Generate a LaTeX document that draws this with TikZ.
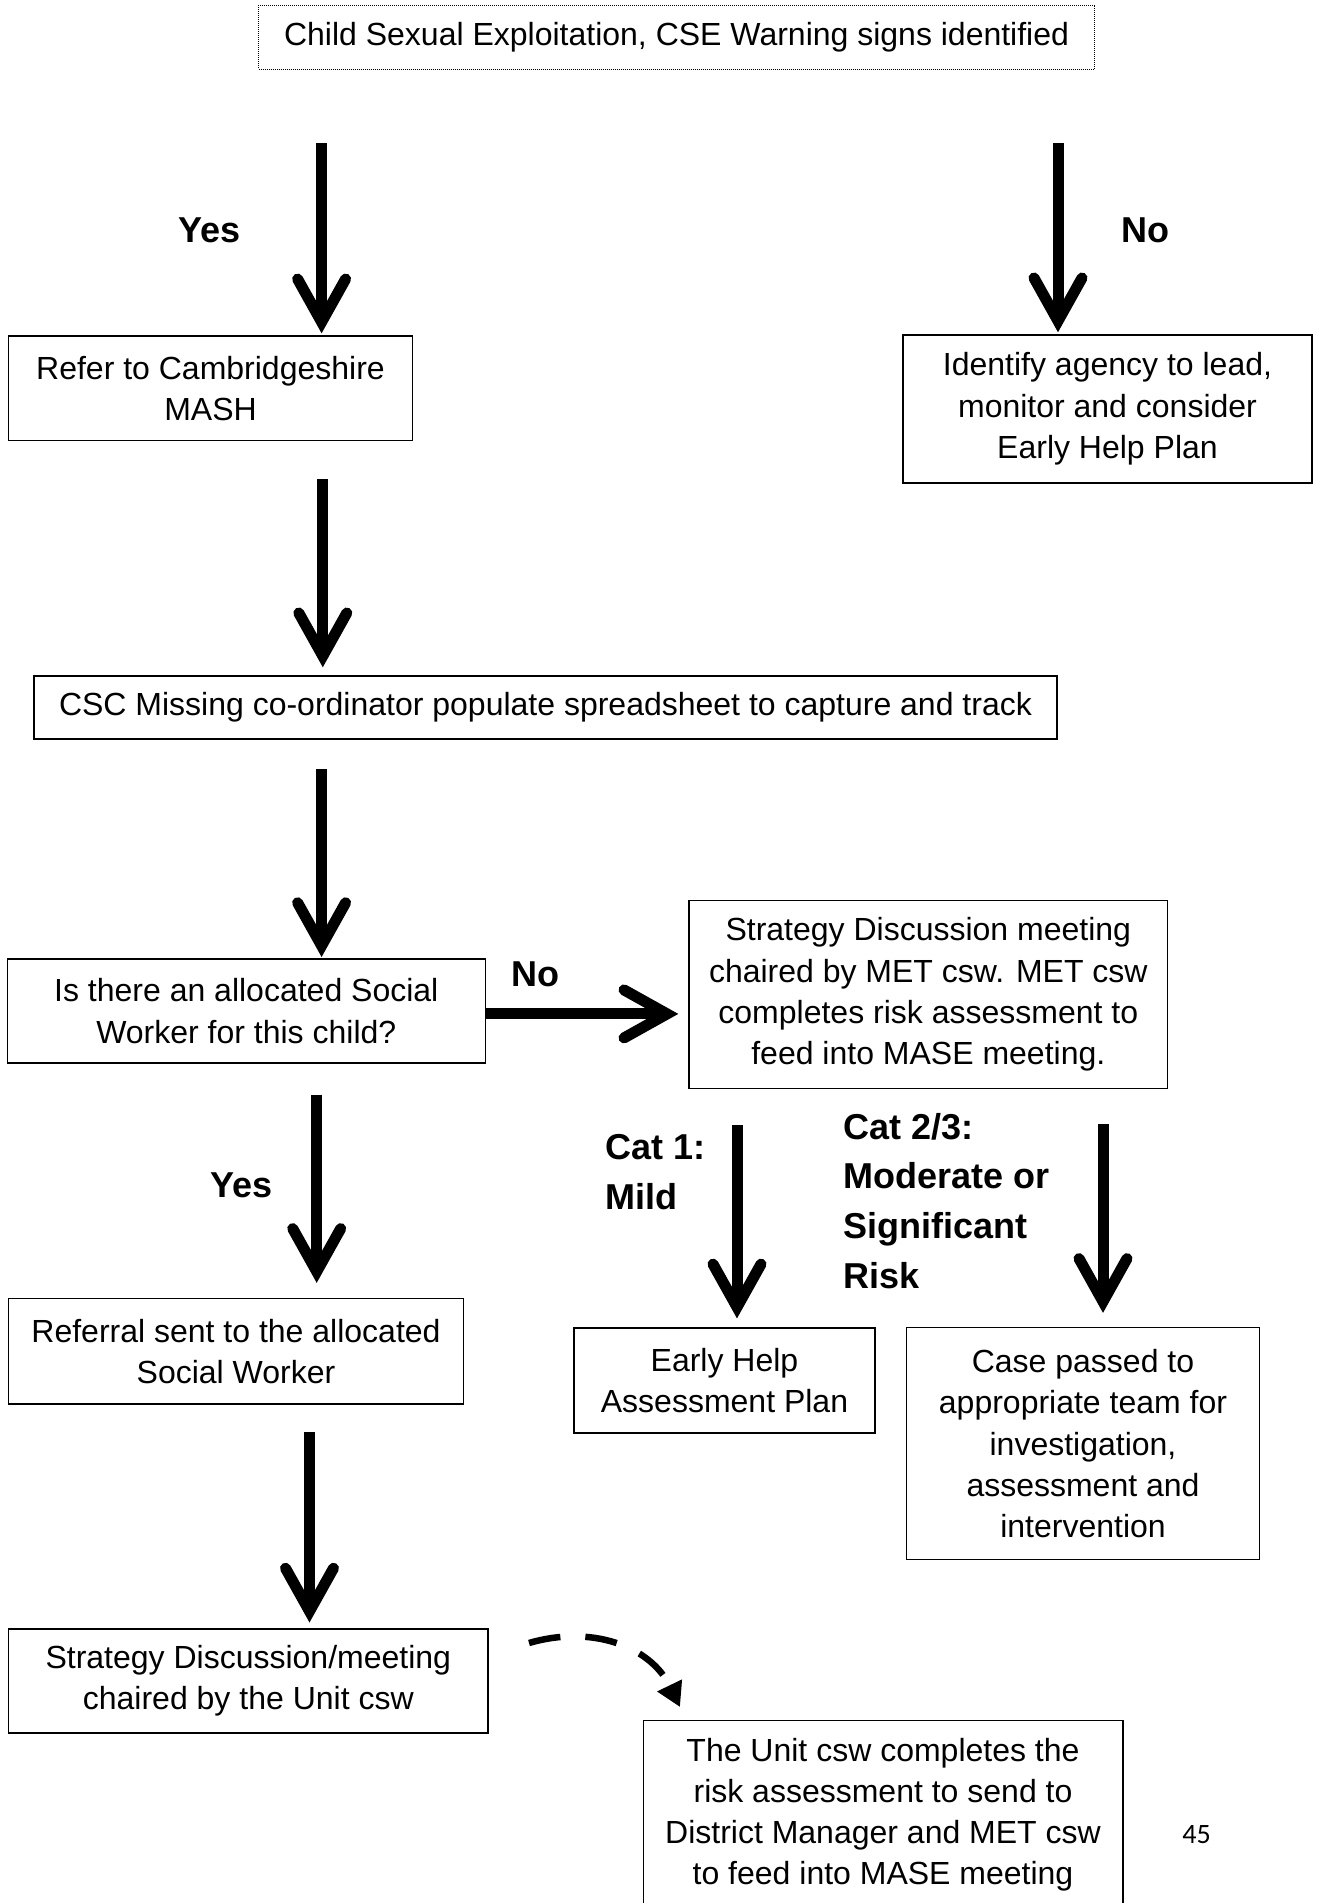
\documentclass[tikz,border=0pt]{standalone}
\usepackage{fontspec}
\setmainfont{Liberation Sans}
\newfontfamily\pagefont{Carlito}
\usetikzlibrary{arrows.meta}
\begin{document}
\begin{tikzpicture}[x=1pt,y=-1pt,
  box/.style={draw, line width=1.5pt, rectangle, inner sep=0pt, align=center,
    font=\fontsize{32}{41.3}\selectfont},
  dotbox/.style={box, line width=1pt, dash pattern=on 1pt off 1pt},
  lbl/.style={font=\fontsize{36}{49.8}\selectfont\bfseries, inner sep=0pt, align=left},
  bigarrow/.style={line width=11pt,
    -{Straight Barb[length=43pt,width=48pt,line cap=round,line join=miter]}},
  dasharrow/.style={line width=6.5pt, dash pattern=on 32pt off 25pt,
    -{Triangle[length=24pt,width=26pt]}}]
\useasboundingbox (0,0) rectangle (1318,1903);
\clip (0,0) rectangle (1318,1903);

% boxes
\node[dotbox, minimum width=836pt, minimum height=64pt] (top) at (676.6,37)
  {Child Sexual Exploitation, CSE Warning signs identified};
\node[box, minimum width=404pt, minimum height=104.5pt] (mash) at (210.5,388.3)
  {Refer to Cambridgeshire\\MASH};
\node[box, minimum width=409pt, minimum height=148pt] (ident) at (1107.5,409)
  {Identify agency to lead,\\monitor and consider\\Early Help Plan};
\node[box, minimum width=1023pt, minimum height=63pt] (csc) at (545.5,707.5)
  {CSC Missing co-ordinator populate spreadsheet to capture and track};
\node[box, minimum width=478pt, minimum height=104.3pt] (isthere) at (246.3,1010.9)
  {Is there an allocated Social\\Worker for this child?};
\node[box, minimum width=478.5pt, minimum height=188pt] (strat1) at (928.3,994.6)
  {Strategy Discussion meeting\\chaired by MET csw. MET csw\\completes risk assessment to\\feed into MASE meeting.};
\node[box, minimum width=455pt, minimum height=105.4pt] (referral) at (236,1351.3)
  {Referral sent to the allocated\\Social Worker};
\node[box, minimum width=301pt, minimum height=105.3pt] (early) at (724.5,1380.4)
  {Early Help\\Assessment Plan};
\node[box, minimum width=353pt, minimum height=232pt] (case) at (1083,1443.6)
  {Case passed to\\appropriate team for\\investigation,\\assessment and\\intervention};
\node[box, minimum width=479.5pt, minimum height=104.3pt] (strat2) at (248.3,1680.9)
  {Strategy Discussion/meeting\\chaired by the Unit csw};
\node[box, minimum width=479.5pt, minimum height=188pt] (unit) at (883,1814.7)
  {The Unit csw completes the\\risk assessment to send to\\District Manager and MET csw\\to feed into MASE meeting};

% labels
\node[lbl] (yes1) at (209.3,230.6) {Yes};
\node[lbl] (no1) at (1145.6,230.6) {No};
\node[lbl] (no2) at (535,974.5) {No};
\node[lbl] (yes2) at (241.5,1185.7) {Yes};
\node[lbl, anchor=west] (cat1) at (605,1172.3) {Cat 1:\\Mild};
\node[lbl, anchor=west] (cat2) at (843,1200.9) {Cat 2/3:\\Moderate or\\Significant\\Risk};
\node[font=\pagefont\fontsize{28}{34}\selectfont, inner sep=0pt] (pg) at (1196.6,1835) {45};

% arrow start points
\coordinate (s1) at (321.6,143);
\coordinate (s2) at (1058,143);
\coordinate (s3) at (322.8,479);
\coordinate (s4) at (321.6,769);
\coordinate (s5) at (316.7,1094.7);
\coordinate (s6) at (309.5,1432);
\coordinate (s7) at (737,1125);
\coordinate (s8) at (1103,1124);
\coordinate (d1) at (529,1643);
\coordinate (d2) at (680,1707);

% arrows
\draw[bigarrow, shorten >=2pt] (s1) -- (s1 |- mash.north);
\draw[bigarrow, shorten >=2pt] (s2) -- (s2 |- ident.north);
\draw[bigarrow, shorten >=8pt] (s3) -- (s3 |- csc.north);
\draw[bigarrow, shorten >=1pt] (s4) -- (s4 |- isthere.north);
\draw[bigarrow, shorten >=10pt] ([yshift=-3pt]isthere.east) -- ([yshift=-3pt]isthere.east -| strat1.west);
\draw[bigarrow, shorten >=15pt] (s5) -- (s5 |- referral.north);
\draw[bigarrow, shorten >=5.5pt] (s6) -- (s6 |- strat2.north);
\draw[bigarrow, shorten >=8.6pt] (s7) -- (s7 |- early.north);
\draw[bigarrow, shorten >=14pt] (s8) -- (s8 |- case.north);
\draw[dasharrow] (d1) .. controls (590,1625) and (650,1645) .. (d2);
\end{tikzpicture}
\end{document}
